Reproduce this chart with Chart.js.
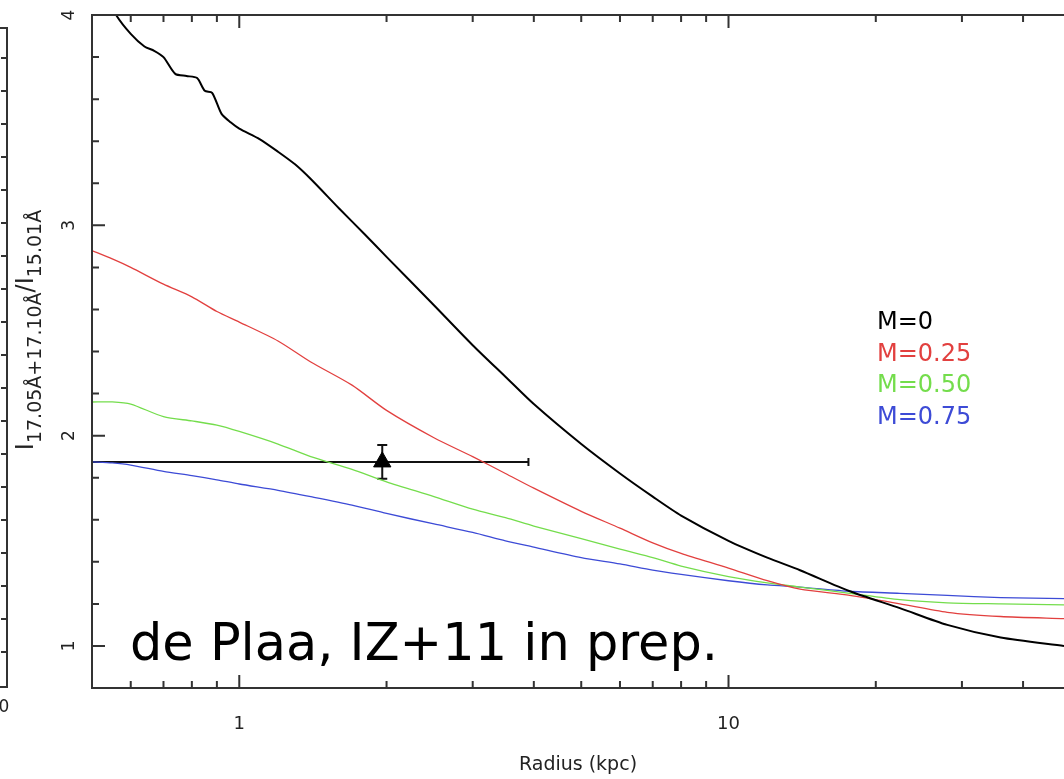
<!DOCTYPE html>
<html>
<head>
<meta charset="utf-8">
<script src="https://cdn.jsdelivr.net/npm/chart.js@4.4.0/dist/chart.umd.min.js"></script>
<style>
    html, body { margin: 0; padding: 0; background: #fff; overflow: hidden; }
    #wrap { width: 1064px; height: 779px; }
</style>
</head>
<body>
<div id="wrap"><canvas id="ratioChart" width="1064" height="779"></canvas></div>
<script>
// model curves (ratio vs radius in kpc)
const blackRadius = [0.54, 0.56, 0.6, 0.64, 0.67, 0.7, 0.74, 0.78, 0.82, 0.85, 0.88, 0.92, 0.96, 1.0, 1.1, 1.2, 1.3, 1.4, 1.6, 1.8, 2.0, 2.5, 3.0, 3.5, 4.0, 5, 6, 7, 8, 10, 12, 14, 17.7, 22.4, 28, 36, 48.5];
const ratioM0 = [4.08, 4.0, 3.91, 3.85, 3.83, 3.80, 3.72, 3.71, 3.70, 3.64, 3.63, 3.53, 3.49, 3.46, 3.41, 3.35, 3.29, 3.22, 3.08, 2.96, 2.85, 2.62, 2.43, 2.28, 2.15, 1.96, 1.82, 1.71, 1.62, 1.50, 1.42, 1.36, 1.26, 1.18, 1.10, 1.04, 1.00];

const modelRadius = [0.5, 0.55, 0.6, 0.7, 0.8, 0.9, 1.0, 1.2, 1.4, 1.7, 2.0, 2.5, 3.0, 3.5, 4.0, 5, 6, 7, 8, 10, 12, 14, 17.7, 22.4, 28, 36, 48.5];
const ratioM025 = [2.88, 2.84, 2.80, 2.72, 2.66, 2.59, 2.54, 2.45, 2.35, 2.24, 2.12, 1.99, 1.90, 1.82, 1.75, 1.64, 1.56, 1.49, 1.44, 1.37, 1.31, 1.27, 1.24, 1.20, 1.16, 1.14, 1.13];
const ratioM050 = [2.16, 2.16, 2.15, 2.09, 2.07, 2.05, 2.02, 1.96, 1.90, 1.84, 1.78, 1.71, 1.65, 1.61, 1.57, 1.51, 1.46, 1.42, 1.38, 1.33, 1.30, 1.28, 1.25, 1.22, 1.205, 1.20, 1.195];
const ratioM075 = [1.875, 1.87, 1.86, 1.83, 1.81, 1.79, 1.77, 1.74, 1.71, 1.67, 1.63, 1.58, 1.54, 1.50, 1.47, 1.42, 1.39, 1.36, 1.34, 1.31, 1.29, 1.28, 1.26, 1.25, 1.24, 1.23, 1.225];

const modelLabels = ['M=0', 'M=0.25', 'M=0.50', 'M=0.75'];
const modelColors = ['#000000', '#e2403f', '#74dd4c', '#3d4bd6'];

// measured point
const obsRadius = [1.96];
const obsRatio = [1.875];
const obsRadiusLow = [0.45];
const obsRadiusHigh = [3.9];
const obsRatioLow = [1.795];
const obsRatioHigh = [1.955];

// axis ticks
const xMajor = [1, 10];
const xMinor = [0.6, 0.7, 0.8, 0.9, 2, 3, 4, 5, 6, 7, 8, 9, 20, 30, 40];
const yMajor = [1, 2, 3, 4];
const yMinor = [0.8, 1.2, 1.4, 1.6, 1.8, 2.2, 2.4, 2.6, 2.8, 3.2, 3.4, 3.6, 3.8];

const toPoints = (xs, ys) => xs.map((x, i) => ({ x: x, y: ys[i] }));

const frameAndText = {
    id: 'frameAndText',
    beforeDatasetsDraw(chart) {
        const ctx = chart.ctx;
        const xs = chart.scales.x, ys = chart.scales.y;
        const area = chart.chartArea;
        ctx.save();
        ctx.beginPath();
        ctx.rect(area.left, area.top, area.right - area.left, area.bottom - area.top);
        ctx.clip();
        ctx.strokeStyle = '#111';
        ctx.lineWidth = 2;
        obsRadius.forEach((r, i) => {
            const px = xs.getPixelForValue(r);
            const py = ys.getPixelForValue(obsRatio[i]);
            const x0 = xs.getPixelForValue(obsRadiusLow[i]);
            const x1 = xs.getPixelForValue(obsRadiusHigh[i]);
            const y0 = ys.getPixelForValue(obsRatioLow[i]);
            const y1 = ys.getPixelForValue(obsRatioHigh[i]);
            ctx.beginPath();
            ctx.moveTo(x0, py); ctx.lineTo(x1, py);
            ctx.moveTo(x1, py - 4); ctx.lineTo(x1, py + 4);
            ctx.moveTo(px, y0); ctx.lineTo(px, y1);
            ctx.moveTo(px - 5, y0); ctx.lineTo(px + 5, y0);
            ctx.moveTo(px - 5, y1); ctx.lineTo(px + 5, y1);
            ctx.stroke();
        });
        ctx.restore();
    },
    afterDraw(chart) {
        const ctx = chart.ctx;
        const xs = chart.scales.x, ys = chart.scales.y;
        const { left, right, top, bottom } = chart.chartArea;
        ctx.save();

        // frame (right side is cut off)
        ctx.strokeStyle = '#333';
        ctx.lineWidth = 2;
        ctx.beginPath();
        ctx.moveTo(right, top); ctx.lineTo(left, top); ctx.lineTo(left, bottom); ctx.lineTo(right, bottom);
        ctx.stroke();

        // inward ticks
        const tick = (v, len, axis) => {
            if (axis === 'x') {
                const p = xs.getPixelForValue(v);
                ctx.moveTo(p, bottom); ctx.lineTo(p, bottom - len);
                ctx.moveTo(p, top); ctx.lineTo(p, top + len);
            } else {
                const p = ys.getPixelForValue(v);
                ctx.moveTo(left, p); ctx.lineTo(left + len, p);
            }
        };
        ctx.beginPath();
        xMajor.forEach(v => tick(v, 13, 'x'));
        xMinor.forEach(v => tick(v, 7, 'x'));
        yMajor.forEach(v => tick(v, 13, 'y'));
        yMinor.forEach(v => tick(v, 7, 'y'));
        ctx.stroke();

        // y tick labels, rotated
        ctx.fillStyle = '#222';
        ctx.font = '17px "DejaVu Sans"';
        ctx.textAlign = 'center';
        ctx.textBaseline = 'middle';
        yMajor.forEach(v => {
            ctx.save();
            ctx.translate(70, ys.getPixelForValue(v));
            ctx.rotate(-Math.PI / 2);
            ctx.fillText(String(v), 0, 0);
            ctx.restore();
        });

        // y axis title with subscripts
        const parts = [
            ['I', false], ['17.05\u00c5+17.10\u00c5', true], ['/', false], ['I', false], ['15.01\u00c5', true]
        ];
        const mainFont = '24px "DejaVu Sans"', subFont = '19px "DejaVu Sans"';
        let total = 0;
        parts.forEach(p => { ctx.font = p[1] ? subFont : mainFont; total += ctx.measureText(p[0]).width; });
        ctx.save();
        ctx.translate(33, 330);
        ctx.rotate(-Math.PI / 2);
        ctx.textAlign = 'left';
        ctx.textBaseline = 'alphabetic';
        let cx = -total / 2;
        parts.forEach(p => {
            ctx.font = p[1] ? subFont : mainFont;
            ctx.fillText(p[0], cx, p[1] ? 8 : 0);
            cx += ctx.measureText(p[0]).width;
        });
        ctx.restore();

        // legend as coloured text
        ctx.font = '24px "DejaVu Sans"';
        ctx.textAlign = 'left';
        ctx.textBaseline = 'middle';
        chart.data.datasets.filter(d => d.isModel).forEach((d, i) => {
            ctx.fillStyle = d.borderColor;
            ctx.fillText(d.label, 877, 323 + i * 31.5);
        });

        // note
        const note = 'de Plaa, IZ+11 in prep.';
        ctx.fillStyle = '#000';
        ctx.font = '52px "Comic Sans MS", "DejaVu Sans"';
        ctx.textBaseline = 'alphabetic';
        const w = ctx.measureText(note).width;
        ctx.save();
        ctx.translate(130, 660);
        ctx.scale(588 / w, 1);
        ctx.fillText(note, 0, 0);
        ctx.restore();

        // edge of the neighbouring panel
        ctx.strokeStyle = '#333';
        ctx.lineWidth = 2;
        ctx.beginPath();
        ctx.moveTo(0, 28); ctx.lineTo(7, 28); ctx.lineTo(7, bottom - 1); ctx.lineTo(0, bottom - 1);
        for (let y = 58; y < bottom - 10; y += 33) { ctx.moveTo(7, y); ctx.lineTo(1, y); }
        ctx.stroke();
        ctx.fillStyle = '#222';
        ctx.font = '17px "DejaVu Sans"';
        ctx.textAlign = 'center';
        ctx.fillText('0', 4, 712);

        ctx.restore();
    }
};

const modelSets = [
    toPoints(blackRadius, ratioM0),
    toPoints(modelRadius, ratioM025),
    toPoints(modelRadius, ratioM050),
    toPoints(modelRadius, ratioM075)
];

const datasets = modelSets.map((pts, i) => ({
    label: modelLabels[i],
    isModel: true,
    data: pts,
    showLine: true,
    borderColor: modelColors[i],
    borderWidth: i === 0 ? 2 : 1.3,
    pointRadius: 0,
    tension: 0.25
}));
datasets.push({
    label: 'data',
    data: toPoints(obsRadius, obsRatio),
    pointStyle: 'triangle',
    pointRadius: 10,
    backgroundColor: '#000',
    borderColor: '#000',
    borderWidth: 1
});

new Chart(document.getElementById('ratioChart').getContext('2d'), {
    type: 'scatter',
    data: { datasets: datasets },
    options: {
        responsive: false,
        animation: false,
        layout: { autoPadding: false, padding: { left: 0, top: 15, right: 0, bottom: 0 } },
        plugins: { legend: { display: false }, tooltip: { enabled: false } },
        scales: {
            x: {
                type: 'logarithmic',
                min: 0.5,
                max: 48.5,
                grid: { display: false, drawTicks: false },
                border: { display: false },
                afterBuildTicks: s => { s.ticks = xMajor.map(v => ({ value: v })); },
                afterFit: s => { s.height = 91; s.paddingLeft = 0; s.paddingRight = 0; },
                ticks: {
                    autoSkip: false,
                    maxRotation: 0,
                    padding: 26,
                    color: '#222',
                    font: { family: 'DejaVu Sans', size: 18 },
                    callback: v => String(v)
                },
                title: {
                    display: true,
                    text: 'Radius (kpc)',
                    color: '#222',
                    font: { family: 'DejaVu Sans', size: 19 },
                    padding: { top: 4, bottom: 3 }
                }
            },
            y: {
                min: 0.8,
                max: 4,
                grid: { display: false, drawTicks: false },
                border: { display: false },
                ticks: { display: false },
                afterFit: s => { s.width = 92; }
            }
        }
    },
    plugins: [frameAndText]
});
</script>
</body>
</html>
